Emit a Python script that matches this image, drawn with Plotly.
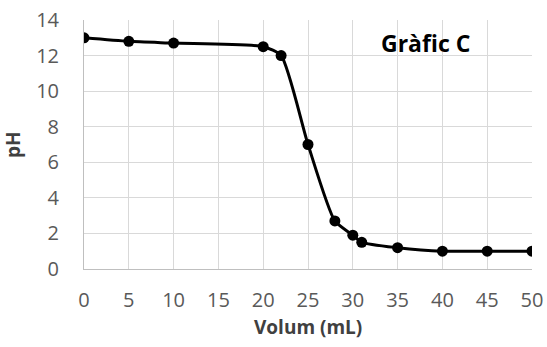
import plotly.graph_objects as go

volum = [0, 5, 10, 20, 22, 25, 28, 30, 31, 35, 40, 45, 50]
ph = [13.0, 12.8, 12.7, 12.5, 12.0, 7.0, 2.7, 1.9, 1.5, 1.2, 1.0, 1.0, 1.0]
x_ticks = [0, 5, 10, 15, 20, 25, 30, 35, 40, 45, 50]
y_ticks = [0, 2, 4, 6, 8, 10, 12, 14]

fig = go.Figure()
fig.add_trace(go.Scatter(
    x=volum, y=ph, mode="lines+markers",
    line=dict(color="black", width=3, shape="spline", smoothing=0.6),
    marker=dict(color="black", size=11),
    showlegend=False,
))

font_family = "Open Sans, Liberation Sans, sans-serif"
L, R, T, B = 84, 15, 20, 78
W, H = 547, 347
pw, ph_ = W - L - R, H - T - B

fig.update_layout(
    width=W, height=H,
    margin=dict(l=L, r=R, t=T, b=B),
    paper_bgcolor="white", plot_bgcolor="white",
    font=dict(family=font_family, color="#595959", size=20),
    annotations=[
        dict(x=(425 - L) / pw, y=(H - B - 43) / ph_, xref="paper", yref="paper",
             xanchor="center", yanchor="middle",
             text="<b>Gràfic C</b>", showarrow=False,
             font=dict(size=23, color="black", family=font_family)),
        dict(x=(308 - L) / pw, y=-(327 - (H - B)) / ph_, xref="paper", yref="paper",
             xanchor="center", yanchor="middle",
             text="<b>Volum (mL)</b>", showarrow=False,
             font=dict(size=19, color="#404040", family=font_family)),
        dict(x=-(L - 13) / pw, y=(H - B - 145) / ph_, xref="paper", yref="paper",
             xanchor="center", yanchor="middle",
             text="<b>pH</b>", showarrow=False, textangle=-90,
             font=dict(size=19, color="#404040", family=font_family)),
    ],
)
fig.update_xaxes(
    range=[0, 50], tickvals=x_ticks, ticktext=[str(v) for v in x_ticks],
    showgrid=True, gridcolor="#d9d9d9", gridwidth=1,
    showline=True, linecolor="#bfbfbf", linewidth=1,
    zeroline=False, ticks="outside", ticklen=13, tickcolor="rgba(0,0,0,0)",
    automargin=False, tickfont=dict(size=20, color="#595959"),
)
fig.update_yaxes(
    range=[0, 14], tickvals=y_ticks,
    showgrid=True, gridcolor="#d9d9d9", gridwidth=1,
    showline=True, linecolor="#bfbfbf", linewidth=1,
    zeroline=False, ticks="outside", ticklen=20, tickcolor="rgba(0,0,0,0)",
    automargin=False, tickfont=dict(size=20, color="#595959"),
)

fig.write_html("out.html", config={"displayModeBar": False},
               post_script="document.body.style.margin='0px';")
